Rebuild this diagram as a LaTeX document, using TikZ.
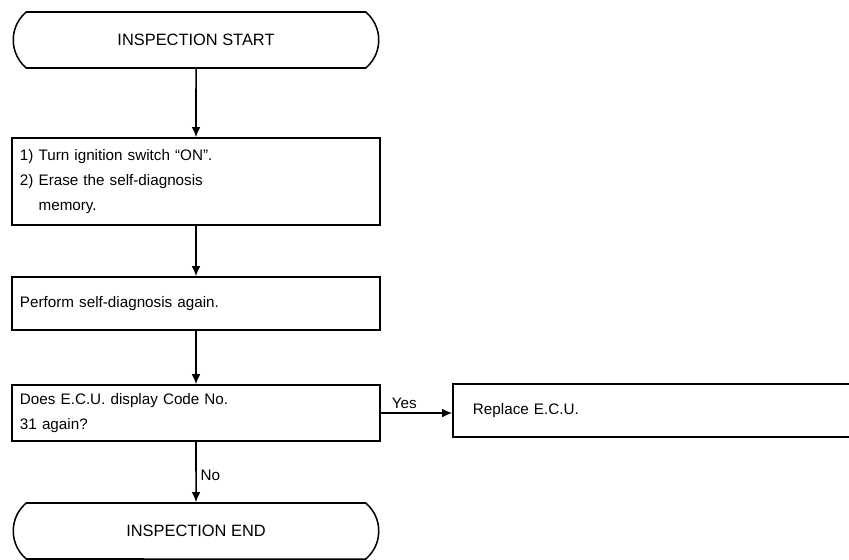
\documentclass[tikz,border=0pt]{standalone}
\usepackage{fontspec}
\setmainfont{Liberation Sans}
\usepackage{tikz}
\usetikzlibrary{shapes.misc}
\usetikzlibrary{arrows.meta}
\tikzstyle{term}=[draw, rounded rectangle, rounded rectangle arc length=100, minimum width=11.2cm, minimum height=1.68cm, font=\fontsize{14}{17}\selectfont]
\tikzstyle{stepbox}=[draw, rectangle, text width=10.56cm, inner xsep=0.24cm, inner ysep=0pt, align=left, font=\fontsize{13}{21}\selectfont]
\tikzstyle{flow}=[-{Latex[length=3mm,width=2.6mm]}]

\begin{document}
\begin{tikzpicture}[x=0.03cm,y=-0.03cm,line width=1.3pt]
\useasboundingbox (0,0) rectangle (849,559);
\node[term] (start) at (196,40) {INSPECTION START};
\node[stepbox, minimum height=2.61cm] (erase) at (196,181.5) {1) Turn ignition switch “ON”.\\2) Erase the self-diagnosis\\\phantom{2) }memory.};
\node[stepbox, minimum height=1.59cm] (again) at (196,303.5) {Perform self-diagnosis again.};
\node[stepbox, minimum height=1.68cm] (code) at (196,413) {Does E.C.U. display Code No.\\31 again?};
\node[stepbox, minimum height=1.59cm, text width=12cm, inner xsep=0.6cm] (ecu) at (673,410.5) {Replace E.C.U.};
\node[term] (end) at (196,531) {INSPECTION END};
\draw[flow] (start) -- (erase);
\draw[flow] (erase) -- (again);
\draw[flow] (again) -- (code);
\draw[flow] (code.east) -- node[above, pos=0.33] {\fontsize{13}{15}\selectfont Yes} (code.east -| ecu.west);
\draw[flow] (code) -- node[right, pos=0.55] {\fontsize{13}{15}\selectfont No} (end);
\end{tikzpicture}
\end{document}
